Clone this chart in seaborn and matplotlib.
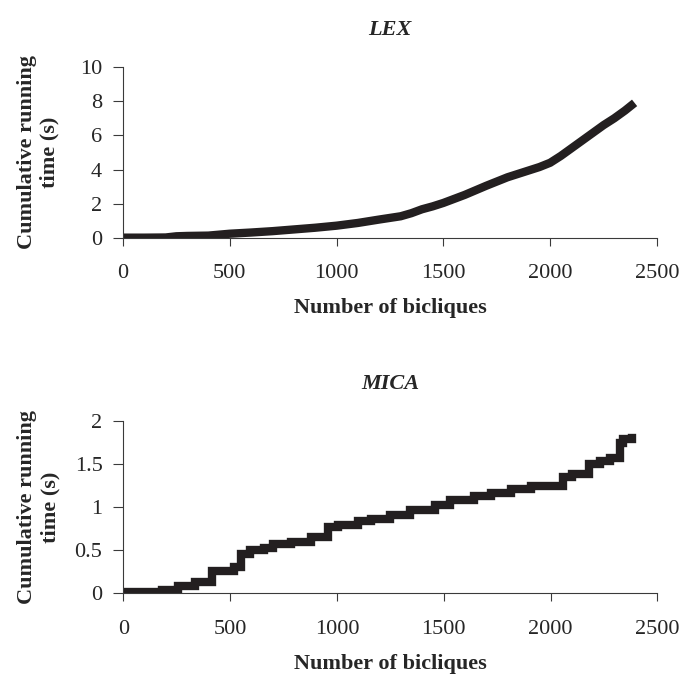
#!/usr/bin/env python3
import matplotlib

matplotlib.use("Agg")
import matplotlib.pyplot as plt
import pandas as pd
import seaborn as sns

# cumulative running time (s) vs number of bicliques
lex_bicliques = [0, 100, 200, 250, 300, 400, 500, 600, 700, 800, 900, 1000, 1100,
                 1200, 1300, 1350, 1400, 1450, 1500, 1600, 1700, 1800, 1900, 1950,
                 2000, 2050, 2100, 2150, 2200, 2250, 2300, 2350, 2380]
lex_time = [0.02, 0.02, 0.03, 0.1, 0.12, 0.14, 0.25, 0.32, 0.4, 0.5, 0.6, 0.72, 0.88,
            1.08, 1.27, 1.45, 1.68, 1.85, 2.05, 2.52, 3.05, 3.55, 3.95, 4.15,
            4.4, 4.8, 5.25, 5.7, 6.15, 6.6, 7.0, 7.45, 7.75]

mica_bicliques = [0, 94, 180, 258, 337, 415, 520, 550, 595, 658, 700, 784, 878, 960,
                  1003, 1097, 1160, 1250, 1340, 1460, 1530, 1640, 1720, 1815, 1910,
                  2060, 2100, 2180, 2230, 2280, 2325, 2340, 2380]
mica_time = [0.01, 0.02, 0.04, 0.09, 0.13, 0.26, 0.31, 0.46, 0.5, 0.53, 0.57, 0.6,
             0.65, 0.77, 0.79, 0.84, 0.86, 0.91, 0.97, 1.03, 1.08, 1.13, 1.17, 1.21,
             1.25, 1.35, 1.38, 1.5, 1.53, 1.57, 1.75, 1.79, 1.8]

x_ticks = [0, 500, 1000, 1500, 2000, 2500]
lex_yticks = [0, 2, 4, 6, 8, 10]
mica_yticks = [0, 0.5, 1, 1.5, 2]
mica_yticklabels = ["0", "0.5", "1", "1.5", "2"]

LINE = "#231f20"
SPINE = "#3a3a3a"


def style_axis(ax, title, yticks, yticklabels, ylim):
    ax.set_xlim(0, 2500)
    ax.set_ylim(*ylim)
    ax.set_xticks(x_ticks)
    ax.set_yticks(yticks)
    ax.set_yticklabels(yticklabels)
    ax.set_title(title, fontsize=16, fontweight="bold", fontstyle="italic", pad=23)
    ax.set_xlabel("Number of bicliques", fontsize=16, fontweight="bold")
    ax.set_ylabel("Cumulative running\ntime (s)", fontsize=16, fontweight="bold",
                  linespacing=1.2)
    ax.xaxis.set_label_coords(0.5, -0.35)
    ax.yaxis.set_label_coords(-0.118, 0.5)
    ax.tick_params(axis="x", length=6, width=0.8, pad=13, labelsize=16, color=SPINE)
    ax.tick_params(axis="y", length=7, width=0.8, pad=8, labelsize=16, color=SPINE)
    for side in ("top", "right"):
        ax.spines[side].set_visible(False)
    for side in ("left", "bottom"):
        ax.spines[side].set_color(SPINE)
        ax.spines[side].set_linewidth(0.8)


def main() -> None:
    sns.set_style("ticks")
    plt.rcParams["font.family"] = ["Liberation Serif", "DejaVu Serif"]

    lex = pd.DataFrame({"bicliques": lex_bicliques, "time": lex_time})
    mica = pd.DataFrame({"bicliques": mica_bicliques, "time": mica_time})

    fig = plt.figure(figsize=(6.81, 6.74), dpi=100)
    ax_top = fig.add_axes([0.1806, 0.6469, 0.7841, 0.2537])
    ax_bot = fig.add_axes([0.1811, 0.1197, 0.7841, 0.2557])

    sns.lineplot(data=lex, x="bicliques", y="time", ax=ax_top, color=LINE,
                 linewidth=6, estimator=None, solid_capstyle="projecting",
                 solid_joinstyle="miter")
    sns.lineplot(data=mica, x="bicliques", y="time", ax=ax_bot, color=LINE,
                 linewidth=6, estimator=None, drawstyle="steps-post",
                 solid_capstyle="projecting", solid_joinstyle="miter")

    style_axis(ax_top, "LEX", lex_yticks, [str(t) for t in lex_yticks], (0, 10))
    style_axis(ax_bot, "MICA", mica_yticks, mica_yticklabels, (0, 2))

    fig.savefig("out.png", dpi=100)
    plt.close(fig)


if __name__ == "__main__":
    main()
